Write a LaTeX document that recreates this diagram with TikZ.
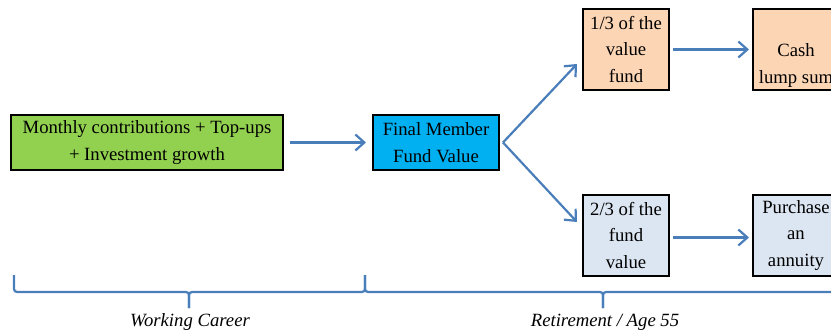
\documentclass[tikz,border=0pt]{standalone}
\usepackage{fontspec}
\setmainfont{Liberation Serif}
\usetikzlibrary{arrows.meta}
\definecolor{boxgreen}{RGB}{146,208,80}
\definecolor{boxcyan}{RGB}{0,176,240}
\definecolor{boxpeach}{RGB}{252,213,181}
\definecolor{boxgrey}{RGB}{220,230,242}
\definecolor{linkblue}{RGB}{74,126,187}

\begin{document}
\begin{tikzpicture}[x=1pt,y=-1pt,
    every node/.style={font=\fontsize{18.7}{26.7}\selectfont, align=center, inner sep=0pt},
    stage/.style={draw=black, line width=2pt, minimum width=86pt, minimum height=81pt},
    link/.style={draw=linkblue, line width=2.2pt, -{Straight Barb[length=9pt,width=16pt,line width=2.2pt]}},
    brace/.style={draw=linkblue, line width=2.2pt, rounded corners=3pt}]
          \useasboundingbox (0,0) rectangle (831,334);
          \clip (0,0) rectangle (831,334);
          \node[stage, fill=boxgreen, minimum width=272pt, minimum height=55pt] (growth) at (147,142.5) {Monthly contributions + Top-ups\\+ Investment growth};
          \node[stage, fill=boxcyan, minimum width=126pt, minimum height=55pt] (final) at (436,142.5) {Final Member\\Fund Value};
          \node[stage, fill=boxpeach] (third) at (626,49.5) {1/3 of the\\value\\fund};         % top branch
          \node[stage, fill=boxpeach] (cash) at (796,49.5) {\strut\\Cash\\lump sum};
          \node[stage, fill=boxgrey] (twothirds) at (626,235.5) {2/3 of the\\fund\\value}; % bottom branch
          \node[stage, fill=boxgrey] (annuity) at (796,235.5) {Purchase\\an\\annuity};
          \draw[link, shorten <=6pt, shorten >=6pt] (growth) -- (final);
          \draw[link] ([xshift=3pt]final.east) -- ([xshift=-5pt,yshift=-14.5pt]third.west);
          \draw[link] ([xshift=3pt]final.east) -- ([xshift=-5pt,yshift=13.5pt]twothirds.west);
          \draw[link, shorten <=3pt, shorten >=3pt] (third) -- (cash);
          \draw[link, shorten <=3pt, shorten >=3pt] ([yshift=-2pt]twothirds.east) -- ([yshift=-2pt]annuity.west);
          % braces under the time line
          \draw[brace] (14,275) |- (189,292) -- (189,308);
          \draw[brace] (365,275) |- (189,292) -- (189,308);
          \draw[brace] (365,275) |- (603,292) -- (603,308);
          \draw[brace] (841,275) |- (603,292) -- (603,308);
          \node[font=\fontsize{18.7}{22}\selectfont\itshape] (career) at (190,322) {Working Career};
          \node[font=\fontsize{18.7}{22}\selectfont\itshape] (retire) at (605,322) {Retirement / Age 55};
\end{tikzpicture}
\end{document}
